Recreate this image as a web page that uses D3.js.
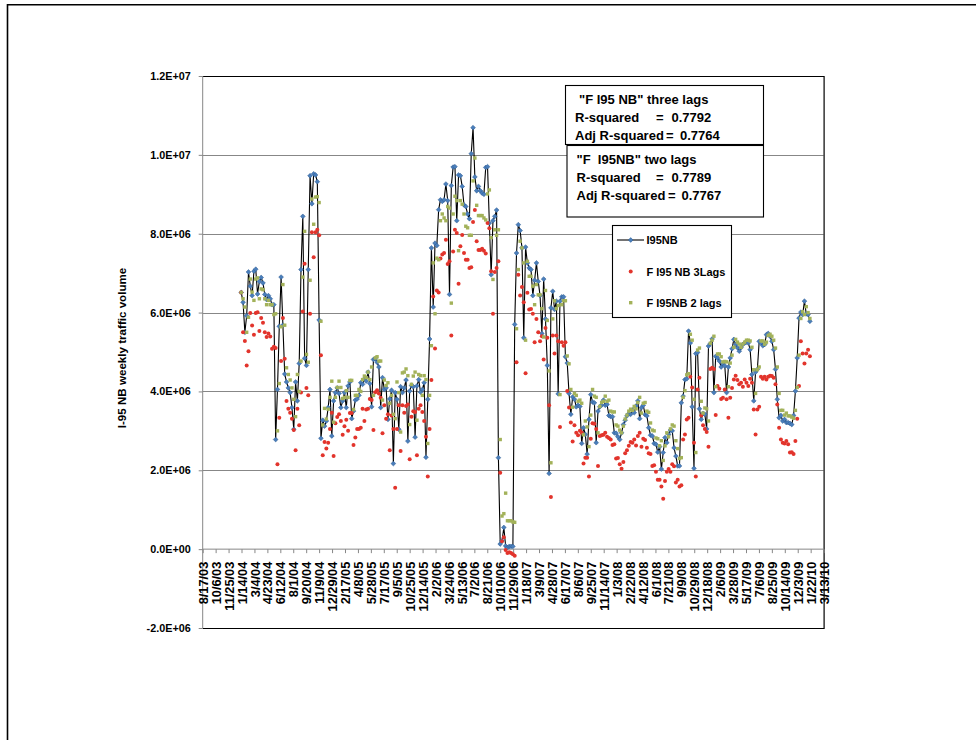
<!DOCTYPE html>
<html><head><meta charset="utf-8">
<script src="https://cdn.jsdelivr.net/npm/d3@7"></script>
<style>
body{margin:0;background:#fff}
svg{display:block}
text{font-family:"Liberation Sans",Arial,sans-serif;font-weight:bold;fill:#000}
</style>
</head><body>
<svg id="c" width="976" height="740"></svg>
<script>
// ---------- data (values in millions of vehicles) ----------
const firstWeek = "1/13/04";
const i95nb = [6.51,6.26,5.50,5.92,7.03,6.67,6.43,7.05,7.10,6.47,
6.79,6.89,6.75,6.46,6.33,6.43,6.35,6.20,6.20,2.78,
4.05,5.65,6.90,5.68,4.44,4.24,4.09,3.97,3.59,3.04,
4.24,3.76,4.71,7.09,8.44,4.84,4.66,7.09,9.47,8.76,
9.52,9.49,9.32,5.81,2.81,3.27,3.12,3.25,3.59,4.05,
2.87,3.76,3.97,4.09,3.95,3.59,3.76,3.97,3.59,4.14,
4.24,3.31,3.50,3.78,3.81,3.90,4.22,4.18,4.32,4.26,
4.49,4.20,3.61,4.81,4.83,4.74,4.62,3.59,4.35,4.05,
4.09,3.29,3.81,4.03,2.17,3.97,3.80,3.04,4.12,3.97,
4.09,4.29,2.74,4.01,4.15,4.12,2.84,4.14,4.30,3.98,
4.05,4.22,2.33,3.80,5.33,7.64,6.14,7.76,7.70,8.61,
8.86,8.82,8.86,9.26,8.84,6.46,9.22,9.69,9.70,8.33,
9.49,9.47,9.20,8.73,8.69,8.50,8.38,10.03,10.69,9.44,
9.09,9.20,9.09,9.03,9.00,9.68,9.70,8.27,6.96,8.33,
8.44,8.60,2.32,0.13,0.21,0.55,0.08,0.04,0.07,0.07,
0.07,5.70,7.51,8.23,8.08,7.64,5.36,7.66,7.26,7.13,
7.09,6.43,6.82,7.26,6.79,6.43,5.47,6.85,5.84,4.66,
1.92,6.12,6.54,6.08,6.29,3.94,6.29,6.40,6.40,4.88,
4.72,3.95,3.42,3.86,3.80,3.61,3.65,3.62,2.68,3.08,
2.91,2.41,3.29,3.92,3.73,3.71,2.70,3.50,3.61,3.65,
3.78,3.65,3.67,3.39,3.36,3.36,2.95,2.94,2.85,2.78,
2.95,3.16,3.27,3.38,3.44,3.42,3.53,3.46,3.63,3.76,
3.31,3.59,3.65,3.41,3.38,3.08,2.89,2.87,2.68,2.66,
2.46,2.60,2.03,2.45,2.83,2.70,2.91,3.02,3.00,2.57,
2.36,2.11,2.11,3.71,3.88,4.30,4.32,5.53,5.23,3.61,
2.05,4.96,4.99,3.56,3.29,3.44,3.42,3.05,5.15,5.21,
5.33,3.97,4.89,4.85,4.77,4.62,4.70,4.65,3.97,4.62,
4.85,5.08,5.32,5.19,5.11,5.02,5.11,5.19,5.23,5.25,
5.23,5.06,4.43,3.76,4.49,4.56,5.27,5.23,5.16,5.19,
5.44,5.47,5.40,5.27,5.06,4.56,3.80,3.33,3.39,3.25,
3.29,3.21,3.21,3.19,3.16,3.39,4.01,4.85,5.86,6.01,
5.95,6.29,5.97,5.95,5.78];

const f3Lags = [6.51,5.50,5.28,4.66,5.02,5.99,5.67,5.44,5.99,6.01,
5.53,5.86,5.74,5.50,5.38,5.47,5.39,5.08,5.13,5.10,
2.15,3.33,4.77,5.86,4.83,3.76,3.56,3.46,3.31,3.02,
2.51,3.56,3.14,3.97,6.03,7.24,4.09,3.90,5.97,8.04,
7.40,8.04,8.10,7.96,4.92,2.38,2.72,2.55,2.70,3.05,
3.46,2.36,3.19,3.35,3.42,3.25,2.90,3.12,3.28,3.00,
3.45,3.45,2.64,2.83,3.05,3.05,3.08,3.56,3.25,3.54,
3.56,3.81,3.78,3.02,3.98,4.03,3.95,3.84,2.94,3.65,
3.31,3.42,2.51,3.39,3.05,1.56,3.05,3.65,2.49,3.65,
3.46,3.63,3.67,2.28,3.36,3.50,3.48,2.38,3.56,3.65,
3.48,3.25,2.85,1.84,3.05,4.29,6.41,5.09,6.56,6.51,
7.37,7.47,7.51,7.85,7.23,7.30,5.42,7.55,8.10,8.02,
6.73,7.68,7.97,7.51,7.34,7.34,7.13,7.15,8.30,8.60,
7.81,7.59,7.59,7.62,7.57,7.50,8.27,8.14,7.05,5.97,
7.03,7.13,7.30,1.94,0.20,0.30,-0.02,-0.10,-0.08,-0.10,
-0.13,-0.17,4.74,6.96,6.43,6.65,6.26,4.46,6.50,6.08,
6.09,5.97,5.25,5.84,5.50,5.27,5.40,4.81,5.61,5.36,
3.65,1.32,5.42,4.96,5.42,5.27,3.10,5.25,5.16,5.25,
4.01,3.59,3.21,2.73,3.14,2.95,2.89,3.00,2.95,2.17,
2.32,2.32,1.84,2.80,3.19,3.18,3.05,2.11,2.87,2.89,
2.90,2.95,2.85,2.82,2.78,2.64,2.66,2.30,2.31,2.15,
2.04,2.21,2.43,2.51,2.62,2.72,2.70,2.78,2.63,2.87,
2.95,2.60,2.80,2.77,2.57,2.43,2.41,2.11,2.13,1.96,
1.76,1.76,1.59,1.28,1.73,1.96,2.03,1.96,2.15,2.10,
1.69,1.76,1.59,1.62,2.78,2.91,3.29,3.33,4.37,4.10,
2.70,1.84,4.05,4.35,3.39,3.14,3.05,2.97,2.60,4.57,
4.60,4.57,3.40,4.14,4.07,3.81,3.84,4.05,3.80,3.33,
3.84,4.09,4.30,4.40,4.29,4.18,4.22,4.12,4.30,4.22,
4.14,4.32,4.22,3.54,2.91,3.54,3.61,4.37,4.32,4.37,
4.30,4.37,4.40,4.39,4.35,4.18,3.67,3.08,2.78,2.70,
2.68,2.74,2.66,2.45,2.46,2.41,2.74,3.31,4.14,5.27,
4.96,4.71,4.96,5.06,4.89];

const f2Lags = [6.51,6.35,6.14,5.50,5.88,6.85,6.52,6.31,6.85,6.88,
6.35,6.60,6.58,6.35,6.20,6.31,6.20,6.20,5.95,5.97,
3.00,4.20,5.64,6.71,5.68,4.60,4.43,4.29,4.09,3.80,
3.36,4.43,4.00,4.77,6.90,8.06,4.94,4.74,6.82,8.88,
8.24,8.93,8.94,8.79,5.78,3.15,3.57,3.30,3.55,3.85,
4.26,3.22,3.85,4.10,4.26,4.10,3.82,3.85,4.02,3.85,
4.28,4.28,3.54,3.90,3.90,4.05,4.00,4.30,4.39,4.35,
4.49,4.30,4.62,3.90,4.85,4.88,4.77,4.77,3.78,4.29,
4.15,4.22,3.70,3.90,3.42,3.31,4.24,3.97,2.97,4.47,
4.49,4.57,4.40,3.16,4.18,4.39,4.49,3.27,4.43,4.40,
3.90,4.40,4.30,2.68,3.90,5.16,7.26,5.97,7.38,7.34,
8.33,8.50,8.40,8.33,8.69,8.65,6.24,8.50,8.95,8.84,
7.57,8.84,8.75,8.50,8.19,8.15,7.96,7.96,9.34,9.92,
8.72,8.46,8.46,8.46,8.40,8.35,9.01,9.11,7.90,6.84,
8.10,7.96,8.10,2.78,0.84,0.90,1.42,0.72,0.72,0.72,
0.69,0.68,5.59,7.09,7.81,7.64,7.26,5.30,7.30,6.92,
6.92,6.67,6.20,6.71,6.45,6.45,6.10,5.38,6.56,5.80,
4.52,2.19,5.84,6.30,6.10,6.18,3.92,6.20,6.30,6.30,
4.90,4.70,4.05,3.60,3.95,3.90,3.75,3.78,3.70,2.90,
3.25,3.10,2.60,3.40,4.05,3.88,3.85,2.95,3.62,3.72,
3.75,3.88,3.75,3.78,3.50,3.48,3.48,3.15,3.12,3.02,
2.95,3.12,3.30,3.40,3.50,3.55,3.52,3.62,3.56,3.72,
3.85,3.45,3.70,3.72,3.50,3.47,3.20,3.02,3.00,2.82,
2.80,2.62,2.75,2.25,2.62,2.95,2.85,3.05,3.15,3.12,
2.75,2.55,2.30,2.32,3.85,4.02,4.42,4.45,5.45,5.30,
3.80,2.45,5.05,5.10,3.75,3.45,3.58,3.56,3.25,5.22,
5.30,5.40,4.12,4.95,4.95,4.88,4.75,4.76,4.75,4.12,
4.72,4.92,5.12,5.32,5.25,5.20,5.12,5.20,5.25,5.30,
5.30,5.28,5.12,4.55,3.95,4.55,4.62,5.28,5.28,5.20,
5.25,5.42,5.45,5.40,5.30,5.10,4.62,3.95,3.52,3.52,
3.40,3.45,3.38,3.38,3.35,3.32,3.52,4.10,4.92,5.85,
6.02,5.95,6.15,6.00,5.85];

const xTickLabels = ["8/17/03","10/6/03","11/25/03","1/14/04","3/4/04","4/23/04","6/12/04","8/1/04",
"9/20/04","11/9/04","12/29/04","2/17/05","4/8/05","5/28/05","7/17/05","9/5/05","10/25/05",
"12/14/05","2/2/06","3/24/06","5/13/06","7/2/06","8/21/06","10/10/06","11/29/06","1/18/07",
"3/9/07","4/28/07","6/17/07","8/6/07","9/25/07","11/14/07","1/3/08","2/22/08","4/12/08",
"6/1/08","7/21/08","9/9/08","10/29/08","12/18/08","2/6/09","3/28/09","5/17/09","7/6/09",
"8/25/09","10/14/09","12/3/09","1/22/10","3/13/10"];
const yTickValues = [-2, 0, 2, 4, 6, 8, 10, 12];
const yTickLabels = ["-2.0E+06","0.0E+00","2.0E+06","4.0E+06","6.0E+06","8.0E+06","1.0E+07","1.2E+07"];
const yTitle = "I-95 NB weekly traffic volume";
const seriesNames = ["I95NB","F I95 NB 3Lags","F I95NB 2 lags"];
const box1 = {title:'"F I95 NB" three lags', r2:"0.7792", adj:"0.7764"};
const box2 = {title:'"F  I95NB" two lags', r2:"0.7789", adj:"0.7767"};

// ---------- drawing ----------
const parse = d3.utcParse("%m/%d/%y");
const tickDates = xTickLabels.map(parse);
const start = parse(firstWeek);
const dates = i95nb.map((_, i) => d3.utcDay.offset(start, 7 * i));

const svg = d3.select("#c");
const X0 = 202.7, X1 = 823.6, YT = 76, YB = 628;
const x = d3.scaleUtc().domain([tickDates[0], tickDates[tickDates.length - 1]]).range([X0, X1]);
const y = d3.scaleLinear().domain([-2, 12]).range([YB, YT]);

const gray = "#878787";
const BLUE = "#4a7ebb", RED = "#e2342c", GREEN = "#a3b25a";
const FONT = '"Liberation Sans",Arial,sans-serif';

// outer frame
svg.append("line").attr("x1", 7.5).attr("x2", 976).attr("y1", 4.8).attr("y2", 4.8)
  .attr("stroke", "#000").attr("stroke-width", 1.6);
svg.append("line").attr("x1", 7.5).attr("x2", 7.5).attr("y1", 4).attr("y2", 740)
  .attr("stroke", "#000").attr("stroke-width", 1.6);

// gridlines
svg.append("g").selectAll("line").data(yTickValues.filter(v => v > 0 && v < 12)).join("line")
  .attr("x1", X0).attr("x2", X1)
  .attr("y1", d => Math.round(y(d)) + 0.5).attr("y2", d => Math.round(y(d)) + 0.5)
  .attr("stroke", gray).attr("stroke-width", 1);

// plot border (top, right, bottom)
svg.append("path")
  .attr("d", `M${X0},${YT + 0.5}H${X1 + 0.5}V${YB + 0.5}H${X0}`)
  .attr("fill", "none").attr("stroke", "#000").attr("stroke-width", 1.2);

// y axis
const yAxis = svg.append("g").attr("transform", `translate(${X0},0)`)
  .call(d3.axisLeft(y).tickValues(yTickValues).tickFormat((d, i) => yTickLabels[i]).tickSize(4).tickPadding(8));
yAxis.select(".domain").remove();
yAxis.selectAll(".tick line").attr("stroke", gray);
yAxis.selectAll("text").style("font-size", "10.8px").style("font-family", FONT).style("font-weight", "bold").attr("fill", "#000");
svg.append("line").attr("x1", X0).attr("x2", X0).attr("y1", YT).attr("y2", YB)
  .attr("stroke", gray).attr("stroke-width", 1);

// x axis at zero
const y0 = y(0);
const xAxis = svg.append("g").attr("transform", `translate(0,${y0})`)
  .call(d3.axisBottom(x).tickValues(tickDates).tickFormat((d, i) => xTickLabels[i]).tickSize(4));
xAxis.select(".domain").remove();
xAxis.selectAll(".tick line").attr("stroke", gray);
xAxis.selectAll("text")
  .attr("transform", "rotate(-90)").attr("text-anchor", "end")
  .attr("x", -12.5).attr("y", 0).attr("dy", "0.36em")
  .style("font-size", "12.8px").style("font-family", FONT).style("font-weight", "bold").attr("fill", "#000");
svg.append("line").attr("x1", X0).attr("x2", X1).attr("y1", y0).attr("y2", y0)
  .attr("stroke", gray).attr("stroke-width", 1);

// y title
svg.append("text").attr("transform", `translate(126,348) rotate(-90)`)
  .attr("text-anchor", "middle").style("font-size", "11.6px").text(yTitle);

// series line
const line = d3.line().x((d, i) => x(dates[i])).y(d => y(d));
svg.append("path").attr("d", line(i95nb)).attr("fill", "none").attr("stroke", "#000").attr("stroke-width", 1.1);

const diamond = "M0,-2.4L2.4,0L0,2.4L-2.4,0Z";
svg.append("g").selectAll("path").data(i95nb).join("path")
  .attr("d", diamond).attr("transform", (d, i) => `translate(${x(dates[i])},${y(d)})`)
  .attr("fill", BLUE).attr("stroke", "#2c5a90").attr("stroke-width", 0.5);

svg.append("g").selectAll("circle").data(f3Lags).join("circle")
  .attr("cx", (d, i) => x(dates[i])).attr("cy", d => y(d)).attr("r", 2).attr("fill", RED);

svg.append("g").selectAll("rect").data(f2Lags).join("rect")
  .attr("x", (d, i) => x(dates[i]) - 1.7).attr("y", d => y(d) - 1.7)
  .attr("width", 3.4).attr("height", 3.4).attr("fill", GREEN);

// text boxes
function statBox(b, bx, by, bw, bh, tx, eq1, v1, eq2, v2, tx0) {
  svg.append("rect").attr("x", bx + 0.5).attr("y", by + 0.5).attr("width", bw).attr("height", bh)
    .attr("fill", "#fff").attr("stroke", "#000").attr("stroke-width", 1.1);
  const g = svg.append("g").style("font-size", "13px");
  g.append("text").attr("x", tx0).attr("y", by + 19).style("white-space", "pre").text(b.title);
  g.append("text").attr("x", tx).attr("y", by + 37).text("R-squared");
  g.append("text").attr("x", eq1).attr("y", by + 37).text("=");
  g.append("text").attr("x", v1).attr("y", by + 37).text(b.r2);
  g.append("text").attr("x", tx).attr("y", by + 55).text("Adj R-squared");
  g.append("text").attr("x", eq2).attr("y", by + 55).text("=");
  g.append("text").attr("x", v2).attr("y", by + 55).text(b.adj);
}
statBox(box1, 565, 85, 198, 59, 575, 656, 671.5, 666, 680, 579);
statBox(box2, 566.5, 145, 196.5, 71.5, 576.5, 656, 671.5, 668, 681.5, 576.5);

// legend
svg.append("rect").attr("x", 612.5).attr("y", 225.5).attr("width", 119).attr("height", 92)
  .attr("fill", "#fff").attr("stroke", "#000").attr("stroke-width", 1.1);
const lg = svg.append("g").style("font-size", "11px");
svg.append("line").attr("x1", 617).attr("x2", 644).attr("y1", 240).attr("y2", 240).attr("stroke", "#000").attr("stroke-width", 1.1);
svg.append("path").attr("d", diamond).attr("transform", "translate(630.7,240)").attr("fill", BLUE).attr("stroke", "#2c5a90").attr("stroke-width", 0.5);
svg.append("circle").attr("cx", 630.7).attr("cy", 271.5).attr("r", 2).attr("fill", RED);
svg.append("rect").attr("x", 629).attr("y", 301).attr("width", 3.4).attr("height", 3.4).attr("fill", GREEN);
lg.selectAll("text").data(seriesNames).join("text")
  .attr("x", 646.5).attr("y", (d, i) => [244, 275.5, 306.5][i]).text(d => d);
</script>
</body></html>
